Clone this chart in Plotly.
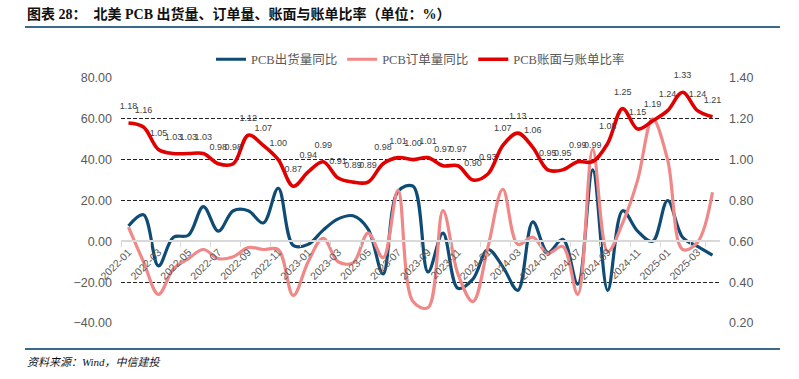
import plotly.graph_objects as go

months = ["2022-01", "2022-02", "2022-03", "2022-04", "2022-05", "2022-06", "2022-07", "2022-08",
          "2022-09", "2022-10", "2022-11", "2022-12", "2023-01", "2023-02", "2023-03", "2023-04",
          "2023-05", "2023-06", "2023-07", "2023-08", "2023-09", "2023-10", "2023-11", "2023-12",
          "2024-01", "2024-02", "2024-03", "2024-04", "2024-05", "2024-06", "2024-07", "2024-08",
          "2024-09", "2024-10", "2024-11", "2024-12", "2025-01", "2025-02", "2025-03", "2025-04"]

shipments_yoy = [7.5, 13, -12, 2, 3, 17, 5, 15, 15, 9,
                 26, -2, -1.5, 5.5, 11, 12.5, 6, -16, 24.5, 27,
                 -15, 4, -23, -18.5, -4, -12.5, -24, 9.5, -5.5, 1,
                 -21, 35, -24, 15, 5, 0, 20, 2, -2.5, -6.8]

orders_yoy = [7, -10, -26, -13.5, -8.5, -4, -8.5, -7.5, -3, -4,
              -4, -26.5, -10, 1.5, -10, -10.5, 4, -8, 25, -29.5,
              -32.5, 15, -16, -29.5, -3, 25.5, -1.5, 2, -6, -2.5,
              -26, 45, -5, 9, 30, 60, 40, -4, -0.5, 24]

book_to_bill = [1.18, 1.16, 1.05, 1.03, 1.03, 1.03, 0.98, 0.98, 1.12, 1.07,
                1.00, 0.87, 0.94, 0.99, 0.91, 0.89, 0.89, 0.98, 1.01, 1.00,
                1.01, 0.97, 0.97, 0.90, 0.93, 1.07, 1.13, 1.06, 0.95, 0.95,
                0.99, 0.99, 1.08, 1.25, 1.15, 1.19, 1.24, 1.33, 1.24, 1.21]

names = ["PCB出货量同比", "PCB订单量同比", "PCB账面与账单比率"]
title_text = "图表 28：  北美 PCB 出货量、订单量、账面与账单比率（单位：%）"
source_text = "资料来源：Wind，中信建投"

W, H = 799, 379
L, R, T, B = 121, 79, 78, 56
PW, PH = W - L - R, H - T - B


def px_x(px):
    return (px - L) / PW


def px_y(py):
    return (H - B - py) / PH


fig = go.Figure()
fig.add_trace(go.Scatter(x=months, y=shipments_yoy, name=names[0], mode="lines",
                         line=dict(color="#0F4C75", width=3.2, shape="spline")))
fig.add_trace(go.Scatter(x=months, y=orders_yoy, name=names[1], mode="lines",
                         line=dict(color="#F08888", width=3.2, shape="spline")))
fig.add_trace(go.Scatter(x=months, y=book_to_bill, name=names[2], mode="lines+text", yaxis="y2",
                         text=[f"{v:.2f}<br> " for v in book_to_bill], textposition="top center",
                         textfont=dict(size=9, color="#404040", family="Liberation Sans"),
                         cliponaxis=False,
                         line=dict(color="#E00000", width=3.6, shape="spline")))

axis_font = dict(size=12.5, color="#595959", family="Liberation Sans")

fig.update_layout(
    width=W, height=H,
    margin=dict(l=L, r=R, t=T, b=B, autoexpand=False),
    paper_bgcolor="white", plot_bgcolor="white",
    font=dict(family="Liberation Sans, Noto Sans CJK SC"),
    showlegend=True,
    legend=dict(orientation="h", x=0.5, xanchor="center", y=1.075, yanchor="middle",
                font=dict(size=12.5, color="#595959", family="Liberation Serif, Noto Sans CJK SC"),
                bgcolor="rgba(0,0,0,0)", itemwidth=30),
    xaxis=dict(type="category", categoryorder="array", categoryarray=months,
               tickmode="array", tickvals=months[::2], ticktext=months[::2],
               tickangle=-45, tickfont=dict(size=10.5, color="#595959", family="Liberation Sans"),
               anchor="free", position=1 / 3, range=[-0.5, len(months) - 0.5],
               showline=True, linecolor="#D9D9D9", linewidth=1.5,
               ticks="outside", ticklen=5, tickcolor="#D9D9D9", tickson="boundaries",
               showgrid=False, zeroline=False),
    yaxis=dict(range=[-40, 80], dtick=20, tickformat=".2f", tickfont=axis_font,
               showgrid=True, gridcolor="#222222", griddash="4px,2px", gridwidth=1,
               zeroline=True, zerolinecolor="#D9D9D9", zerolinewidth=1.5,
               showline=False, ticklabelstandoff=8),
    yaxis2=dict(range=[0.2, 1.4], dtick=0.2, tickformat=".2f", tickfont=axis_font,
                overlaying="y", side="right", showgrid=False, zeroline=False,
                showline=False, ticklabelstandoff=8),
    shapes=[
        dict(type="line", xref="paper", yref="paper", x0=px_x(25), x1=px_x(780),
             y0=px_y(27), y1=px_y(27), line=dict(color="#3A6A8A", width=2)),
        dict(type="line", xref="paper", yref="paper", x0=px_x(25), x1=px_x(780),
             y0=px_y(349), y1=px_y(349), line=dict(color="#3A6A8A", width=2)),
    ],
    annotations=[
        dict(text="<b>" + title_text + "</b>", xref="paper", yref="paper",
             x=px_x(25), y=px_y(14), xanchor="left", yanchor="middle", showarrow=False,
             font=dict(size=14, color="#111111", family="Liberation Serif, Noto Sans CJK SC")),
        dict(text="<i>" + source_text + "</i>", xref="paper", yref="paper",
             x=px_x(25), y=px_y(362), xanchor="left", yanchor="middle", showarrow=False,
             font=dict(size=11, color="#111111", family="Liberation Serif, Noto Sans CJK SC")),
    ],
)

fig.write_html("out.html", config={"displayModeBar": False},
               post_script="document.body.style.margin='0px';document.body.style.overflow='hidden';")
